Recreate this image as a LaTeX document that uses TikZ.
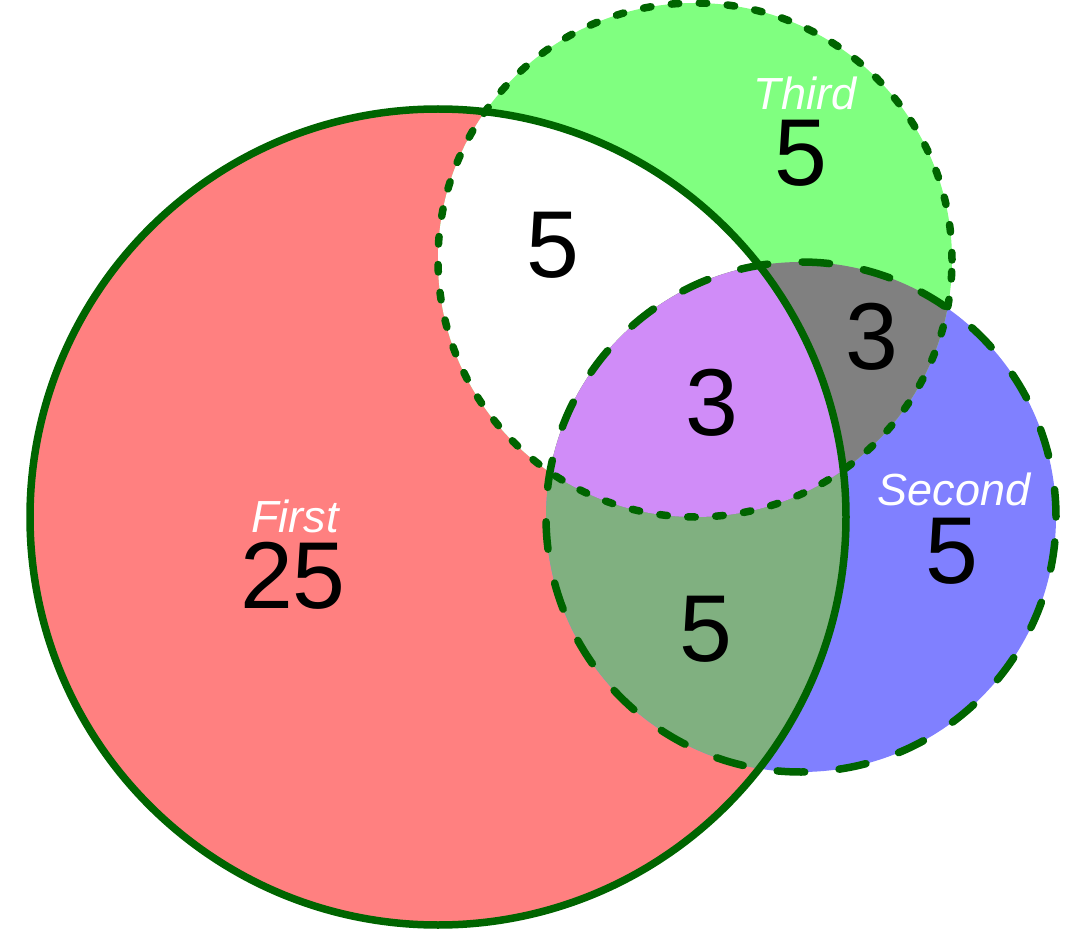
\documentclass[tikz,border=0pt]{standalone}
\usepackage{fontspec}
\setmainfont{Liberation Sans}
\definecolor{firstfill}{HTML}{FF8080}
\definecolor{secondfill}{HTML}{8080FF}
\definecolor{thirdfill}{HTML}{80FF80}
\definecolor{fsfill}{HTML}{80B080}
\definecolor{stfill}{HTML}{808080}
\definecolor{allfill}{HTML}{D08CF8}
\definecolor{edge}{HTML}{006400}
\tikzset{
  numlabel/.style={inner sep=0pt, anchor=base, text height=0.72em, text depth=0pt, font=\fontsize{95}{100}\selectfont},
  setlabel/.style={inner sep=0pt, anchor=base, text=white, text depth=0pt, font=\fontsize{45}{50}\selectfont\itshape},
  solidring/.style={draw=edge, line width=7.5pt},
  shortdash/.style={draw=edge, line width=7.5pt, line cap=round, dash pattern=on 7.5pt off 20.5pt},
  longdash/.style={draw=edge, line width=7.5pt, line cap=round, dash pattern=on 27.5pt off 34.5pt},
}
\begin{document}
\begin{tikzpicture}[x=1pt, y=-1pt]
\useasboundingbox (0,0) rectangle (1080,936);
\coordinate (cF) at (438,517);
\coordinate (cS) at (801,517);
\coordinate (cT) at (695,260);
\def\rF{408pt}
\def\rS{255pt}
\def\rT{257pt}
% base fills
\fill[firstfill] (cF) circle[radius=\rF];
\fill[secondfill] (cS) circle[radius=\rS];
\fill[thirdfill] (cT) circle[radius=\rT];
% First & Third (minus Second) white, First & Second
\begin{scope}
\clip (cF) circle[radius=\rF];
\fill[white] (cT) circle[radius=\rT];
\fill[fsfill] (cS) circle[radius=\rS];
\end{scope}
% Second & Third
\begin{scope}
\clip (cS) circle[radius=\rS];
\fill[stfill] (cT) circle[radius=\rT];
\end{scope}
% all three
\begin{scope}
\clip (cF) circle[radius=\rF];
\clip (cS) circle[radius=\rS];
\fill[allfill] (cT) circle[radius=\rT];
\end{scope}
% outlines
\path[solidring] (cF) circle[radius=\rF];
\path[shortdash] (cT) circle[radius=\rT];
\path[longdash] (cS) circle[radius=\rS];
% labels
\node[setlabel] (lF) at (295,532) {First};
\node[numlabel] (nF) at (293,608) {25};
\node[setlabel] (lT) at (805,110) {Third};
\node[numlabel] (nT) at (801,186) {5};
\node[setlabel] (lS) at (954,505) {Second};
\node[numlabel] (nS) at (952,583) {5};
\node[numlabel] (nFT) at (553,278) {5};
\node[numlabel] (nST) at (872,370) {3};
\node[numlabel] (nFST) at (712,435) {3};
\node[numlabel] (nFS) at (706,661) {5};
\end{tikzpicture}
\end{document}
